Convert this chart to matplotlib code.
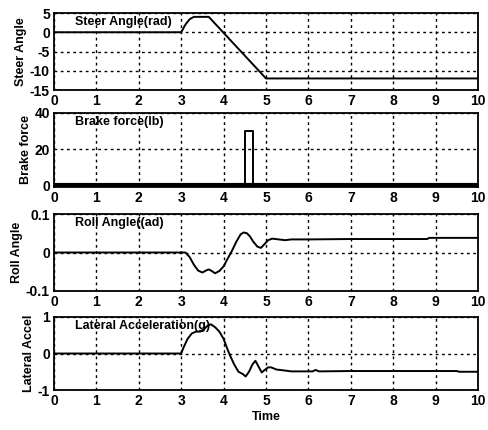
import matplotlib
matplotlib.use("Agg")
import matplotlib.pyplot as plt
import numpy as np

plt.rcParams['font.family'] = ['Liberation Sans Narrow', 'Liberation Sans', 'DejaVu Sans']
plt.rcParams['font.weight'] = 'bold'

# Steer angle (rad)
steer_t = [0, 3.0, 3.1, 3.2, 3.3, 3.65, 5.0, 10.0]
steer_v = [0, 0, 2.0, 3.4, 4.0, 4.0, -12.0, -12.0]

# Brake force (lb)
brake_t = [0, 4.5, 4.5, 4.7, 4.7, 10.0]
brake_v = [0, 0, 30, 30, 0, 0]

# Roll angle (rad)
roll_t = [0, 3.0, 3.1, 3.2, 3.3, 3.4, 3.5, 3.6, 3.65, 3.72, 3.8, 3.9, 4.0, 4.1, 4.2, 4.3, 4.4, 4.47,
          4.55, 4.62, 4.7, 4.8, 4.88, 4.95, 5.05, 5.15, 5.3, 5.45, 5.6, 6.0, 7.0, 8.0, 8.8, 8.85, 10.0]
roll_v = [0, 0, 0.0, -0.012, -0.032, -0.047, -0.052, -0.046, -0.044, -0.048, -0.054, -0.048, -0.036,
          -0.015, 0.005, 0.028, 0.047, 0.052, 0.050, 0.042, 0.028, 0.015, 0.012, 0.02, 0.032, 0.036,
          0.034, 0.032, 0.034, 0.034, 0.035, 0.035, 0.035, 0.038, 0.038]

# Lateral acceleration (g)
lat_t = [0, 3.0, 3.05, 3.15, 3.25, 3.35, 3.45, 3.55, 3.62, 3.7, 3.8, 3.9, 4.0, 4.08, 4.15, 4.25,
         4.35, 4.45, 4.52, 4.6, 4.68, 4.75, 4.82, 4.9, 4.97, 5.05, 5.12, 5.25, 5.4, 5.6, 6.1, 6.17,
         6.25, 7.0, 8.0, 9.0, 9.5, 9.55, 10.0]
lat_v = [0, 0, 0.15, 0.4, 0.55, 0.6, 0.6, 0.68, 0.76, 0.8, 0.72, 0.6, 0.4, 0.15, -0.05, -0.3,
         -0.5, -0.56, -0.63, -0.5, -0.3, -0.2, -0.35, -0.52, -0.45, -0.38, -0.38, -0.44, -0.46,
         -0.49, -0.49, -0.45, -0.49, -0.48, -0.48, -0.48, -0.48, -0.5, -0.5]

panels = [
    (steer_t, steer_v, (-15, 5), [-15, -10, -5, 0, 5], ['-15', '-10', '-5', '0', '5'], 'Steer Angle', 'Steer Angle(rad)'),
    (brake_t, brake_v, (-1, 40), [0, 20, 40], ['0', '20', '40'], 'Brake force', 'Brake force(lb)'),
    (roll_t, roll_v, (-0.1, 0.1), [-0.1, 0, 0.1], ['-0.1', '0', '0.1'], 'Roll Angle', 'Roll Angle((ad)'),
    (lat_t, lat_v, (-1, 1), [-1, 0, 1], ['-1', '0', '1'], 'Lateral Accel', 'Lateral Acceleration(g)'),
]

positions = [
    (54/489, 1 - 90/430, 424/489, 77/430),
    (54/489, 1 - 187/430, 424/489, 74/430),
    (54/489, 1 - 291/430, 424/489, 77/430),
    (54/489, 1 - 390/430, 424/489, 73/430),
]

fig = plt.figure(figsize=(4.89, 4.30), dpi=100)
for i, (t, v, ylim, yt, ytl, ylab, title) in enumerate(panels):
    ax = fig.add_axes(positions[i])
    ax.plot(t, v, color='black', lw=1.4)
    if i == 1:
        ax.axhline(0, color='black', lw=3)
    ax.set_xlim(0, 10)
    ax.set_ylim(*ylim)
    ax.set_xticks(range(11))
    ax.set_xticklabels([str(k) for k in range(11)], fontsize=10, fontweight='bold')
    ax.set_yticks(yt)
    ax.set_yticklabels(ytl, fontsize=10, fontweight='bold')
    ax.grid(True, color='black', linestyle=(0, (2, 2.5)), lw=1.0)
    ax.tick_params(length=0, pad=3)
    for s in ax.spines.values():
        s.set_linewidth(1.3)
    ax.set_ylabel(ylab, fontsize=9, fontweight='bold', labelpad=2)
    ax.text(0.05, 0.96, title, transform=ax.transAxes, ha='left', va='top', fontsize=9,
            fontweight='bold', zorder=5)
    if i == 3:
        ax.set_xlabel('Time', fontsize=9, fontweight='bold', labelpad=2)

fig.savefig('out.png', dpi=100)
